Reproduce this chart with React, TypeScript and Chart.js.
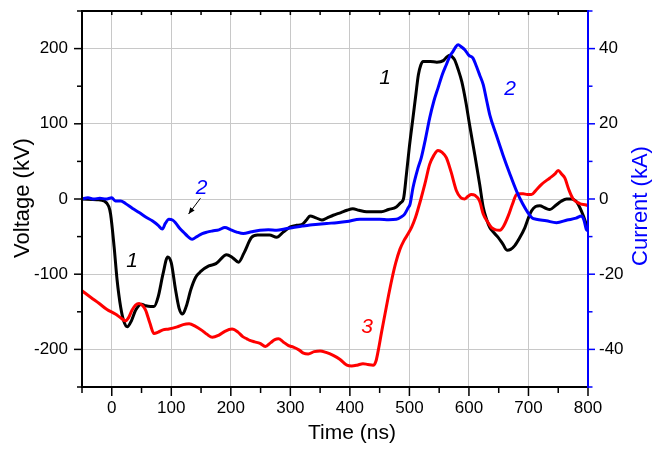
import React, { useEffect, useRef } from "react";
import { Chart, registerables } from "chart.js";

Chart.register(...registerables);

// Trace 1 (black): voltage, kV
const trace1Time = [-50, -25, -12, -5, -2, 4, 9, 15, 20, 26, 33, 40, 50, 57, 65, 71, 78, 86, 94, 100, 107, 113, 119, 125, 133, 141, 150, 163, 175, 193, 203, 213, 222, 235, 245, 255, 265, 277, 288, 300, 310, 319, 327, 333, 343, 353, 362, 372, 385, 395, 405, 415, 428, 440, 453, 465, 478, 485, 490, 495, 500, 506, 511, 515, 519, 523, 535, 546, 557, 563, 568, 572, 576, 582, 588, 595, 601, 610, 618, 624, 630, 635, 642, 649, 657, 664, 670, 677, 685, 694, 700, 705, 712, 719, 728, 736, 745, 755, 764, 772, 780, 786, 792, 797, 800];
const trace1Volt = [0, -1, -3, -10, -20, -64, -108, -144, -162, -170, -162, -148, -140, -142, -143, -143, -130, -100, -77, -85, -120, -145, -153, -143, -120, -104, -96, -89, -86, -74, -78, -84, -72, -51, -48, -48, -48, -51, -44, -37, -35, -34, -28, -22.5, -25, -28, -25, -21.6, -18, -15, -13, -15, -17, -17, -17, -14, -10.6, -5, 0, 33, 70, 108, 140, 165, 178, 183, 183, 182, 184, 189, 191, 189, 185, 172, 156, 128, 99, 58, 19.5, -11, -28, -38, -45, -51, -60, -68, -67, -62, -52, -38, -25, -16, -10, -9, -12, -14, -9, -3, 0, 0, -3, -11, -22, -33, -38];

// Trace 3 (red): voltage, kV
const trace3Time = [-50, -35, -21, -8, 6, 15, 23, 28, 34, 40, 46, 52, 57, 64, 71, 78, 86, 96, 110, 120, 130, 140, 152, 160, 169, 180, 190, 202, 212, 220, 227, 232, 240, 249, 258, 267, 274, 280, 288, 297, 305, 315, 322, 330, 340, 350, 360, 372, 383, 395, 403, 412, 422, 430, 439, 444, 448, 453, 459, 465, 471, 477, 484, 491, 498, 504, 510, 515, 520, 526, 534, 541, 548, 555, 562, 570, 579, 586, 593, 599, 604, 610, 618, 624, 631, 638, 645, 652, 659, 666, 673, 680, 686, 691, 698, 705, 713, 722, 736, 744, 750, 756, 761, 768, 775, 786, 797, 800];
const trace3Volt = [-122, -131, -139, -147, -153, -158, -162, -158, -148, -141, -139, -142, -148, -165, -179, -177, -174, -173, -170, -167, -166, -169, -175, -180, -184, -181, -176, -173, -177, -183, -186, -188, -190, -192, -196, -191, -187, -186, -190, -195, -197, -201, -205, -206, -203, -202, -204, -208, -213, -221, -222, -221, -219, -220, -221, -215, -200, -178, -153, -128, -105, -85, -67, -55, -46, -37, -25, -12, 2, 20, 46, 58, 64.5, 62, 55, 36, 11, 2, 0, 4, 6, 5, -3, -20, -30, -38, -41, -41.5, -35, -22.5, -7, 6, 7, 7, 6, 6, 12, 19.5, 28, 33, 38, 33, 28, 12, 0, -6, -8, -9];

// Trace 2 (blue): current, kA
const trace2Time = [-50, -40, -30, -20, -10, 0, 6, 15, 23, 35, 46, 57, 68, 78, 85, 90, 96, 102, 107, 114, 121, 128, 135, 143, 152, 160, 169, 180, 190, 200, 210, 221, 235, 249, 263, 277, 290, 305, 320, 333, 347, 361, 378, 395, 417, 435, 450, 465, 478, 486, 492, 498, 501, 506, 514, 520, 527, 534, 541, 548, 555, 562, 568, 573, 578, 582, 587, 593, 600, 607, 612, 618, 624, 630, 635, 646, 657, 668, 680, 690, 699, 706, 713, 730, 747, 765, 780, 789, 793, 797, 800];
const trace2Curr = [0, 0.3, 0, 0.2, 0, 0.3, -0.5, -0.5, -1.2, -2.5, -3.6, -4.8, -5.8, -7, -8, -6.5, -5.4, -5.6, -6.3, -7.8, -8.9, -10, -10.7, -10, -9.2, -8.8, -8.5, -8.2, -7.6, -8.2, -8.8, -9.2, -8.7, -8.3, -8.2, -8.3, -8, -7.6, -7.2, -6.9, -6.7, -6.5, -6.3, -6, -5.4, -5.4, -5.4, -5.5, -5.4, -4.8, -4, -2.3, -1.4, 3, 8, 11, 16, 21.5, 26, 29.5, 33, 35.7, 38, 39.2, 40.5, 41, 40.5, 39.7, 38.2, 37.4, 35.5, 33, 30.4, 26, 22.4, 17, 11.8, 7, 2.1, -1.2, -3.6, -5, -5.4, -5.8, -6.3, -5.6, -5.1, -4.5, -5.5, -8, -8.5];

// Axis ticks
const timeTicks = [0, 100, 200, 300, 400, 500, 600, 700, 800];
const voltTicks = [-200, -100, 0, 100, 200];
const currTicks = [-40, -20, 0, 20, 40];

// Curve labels (text, time, voltage)
const labelText = ["1", "1", "2", "2", "3"];
const labelTime = [459, 34, 151, 669, 429];
const labelVolt = [161, -82, 15, 146, -171];
const labelColor = ["#000000", "#000000", "#0000ff", "#0000ff", "#ff0000"];

const FONT = "'Liberation Sans', Arial, sans-serif";

const framePlugin = {
  id: "frame",
  afterDatasetsDraw(chart: any) {
    const { ctx, chartArea, scales } = chart;
    const { left, right, top, bottom } = chartArea;
    const x = scales.x, y = scales.y, y2 = scales.y2;
    ctx.save();
    ctx.lineCap = "butt";
    ctx.lineWidth = 1.5;
    ctx.strokeStyle = "#000";
    for (let v = -50; v <= 800; v += 50) {
      const px = x.getPixelForValue(v);
      const major = v % 100 === 0;
      ctx.beginPath();
      ctx.moveTo(px, bottom);
      ctx.lineTo(px, bottom + (major ? 9 : 6));
      ctx.moveTo(px, top);
      ctx.lineTo(px, top + 4);
      ctx.stroke();
    }
    for (let v = -250; v <= 250; v += 50) {
      const py = y.getPixelForValue(v);
      const major = v % 100 === 0;
      ctx.beginPath();
      ctx.moveTo(left, py);
      ctx.lineTo(left - (major ? 8 : 5), py);
      ctx.stroke();
    }
    ctx.strokeStyle = "#0000ff";
    for (let v = -50; v <= 50; v += 10) {
      const py = y2.getPixelForValue(v);
      const major = v % 20 === 0;
      ctx.beginPath();
      ctx.moveTo(right, py);
      ctx.lineTo(right + (major ? 7 : 4.5), py);
      ctx.stroke();
    }
    ctx.lineWidth = 2;
    ctx.strokeStyle = "#000";
    ctx.beginPath();
    ctx.moveTo(right, top);
    ctx.lineTo(left, top);
    ctx.lineTo(left, bottom);
    ctx.lineTo(right, bottom);
    ctx.stroke();
    ctx.strokeStyle = "#0000ff";
    ctx.beginPath();
    ctx.moveTo(right, top - 1);
    ctx.lineTo(right, bottom + 1);
    ctx.stroke();
    ctx.restore();
  },
  afterDraw(chart: any) {
    const { ctx, scales } = chart;
    const x = scales.x, y = scales.y;
    ctx.save();
    ctx.fillStyle = "#000";
    ctx.font = `21px ${FONT}`;
    ctx.textAlign = "center";
    ctx.textBaseline = "alphabetic";
    ctx.fillText("Time (ns)", 352, 439);
    ctx.save();
    ctx.font = `22px ${FONT}`;
    ctx.translate(29, 198);
    ctx.rotate(-Math.PI / 2);
    ctx.fillText("Voltage (kV)", 0, 0);
    ctx.restore();
    ctx.save();
    ctx.font = `22px ${FONT}`;
    ctx.fillStyle = "#0000ff";
    ctx.translate(647, 206);
    ctx.rotate(-Math.PI / 2);
    ctx.fillText("Current (kA)", 0, 0);
    ctx.restore();
    ctx.font = `italic 21px ${FONT}`;
    ctx.textBaseline = "middle";
    for (let i = 0; i < labelText.length; i++) {
      ctx.fillStyle = labelColor[i];
      ctx.fillText(labelText[i], x.getPixelForValue(labelTime[i]), y.getPixelForValue(labelVolt[i]));
    }
    const x0 = x.getPixelForValue(149), y0 = y.getPixelForValue(1);
    const x1 = x.getPixelForValue(129), y1 = y.getPixelForValue(-20);
    ctx.strokeStyle = "#000";
    ctx.fillStyle = "#000";
    ctx.lineWidth = 1;
    ctx.beginPath();
    ctx.moveTo(x0, y0);
    ctx.lineTo(x1, y1);
    ctx.stroke();
    const ang = Math.atan2(y1 - y0, x1 - x0);
    ctx.beginPath();
    ctx.moveTo(x1, y1);
    ctx.lineTo(x1 - 7 * Math.cos(ang - 0.4), y1 - 7 * Math.sin(ang - 0.4));
    ctx.lineTo(x1 - 7 * Math.cos(ang + 0.4), y1 - 7 * Math.sin(ang + 0.4));
    ctx.closePath();
    ctx.fill();
    ctx.restore();
  },
};

function pts(t: number[], v: number[]) {
  return t.map((tt, i) => ({ x: tt, y: v[i] }));
}

export default function App() {
  const ref = useRef<HTMLCanvasElement | null>(null);
  useEffect(() => {
    if (!ref.current) return;
    const tickFont = { family: FONT, size: 17 };
    const chart = new Chart(ref.current, {
      type: "line",
      data: {
        datasets: [
          {
            label: "2",
            data: pts(trace2Time, trace2Curr),
            yAxisID: "y2",
            borderColor: "#0000ff",
            borderWidth: 3,
            pointRadius: 0,
            cubicInterpolationMode: "monotone",
          },
          {
            label: "3",
            data: pts(trace3Time, trace3Volt),
            yAxisID: "y",
            borderColor: "#ff0000",
            borderWidth: 3,
            pointRadius: 0,
            cubicInterpolationMode: "monotone",
          },
          {
            label: "1",
            data: pts(trace1Time, trace1Volt),
            yAxisID: "y",
            borderColor: "#000000",
            borderWidth: 3,
            pointRadius: 0,
            cubicInterpolationMode: "monotone",
          },
        ],
      },
      options: {
        animation: false,
        responsive: false,
        devicePixelRatio: 1,
        layout: { padding: { top: 11, left: 0, right: 0, bottom: 0 } },
        plugins: { legend: { display: false }, tooltip: { enabled: false } },
        scales: {
          x: {
            type: "linear",
            min: -50,
            max: 800,
            afterBuildTicks: (s: any) => { s.ticks = timeTicks.map((v) => ({ value: v })); },
            afterFit: (s: any) => { s.height = 62; s.paddingLeft = 0; s.paddingRight = 0; },
            grid: { color: "#c8c8c8", lineWidth: 1, drawTicks: false },
            border: { display: false },
            ticks: { font: tickFont, color: "#000", padding: 11, maxRotation: 0, autoSkip: false },
          },
          y: {
            type: "linear",
            position: "left",
            min: -250,
            max: 250,
            afterBuildTicks: (s: any) => { s.ticks = voltTicks.map((v) => ({ value: v })); },
            afterFit: (s: any) => { s.width = 82; s.paddingTop = 0; s.paddingBottom = 0; },
            grid: { color: "#c8c8c8", lineWidth: 1, drawTicks: false },
            border: { display: false },
            ticks: { font: tickFont, color: "#000", padding: 14, autoSkip: false },
          },
          y2: {
            type: "linear",
            position: "right",
            min: -50,
            max: 50,
            afterBuildTicks: (s: any) => { s.ticks = currTicks.map((v) => ({ value: v })); },
            afterFit: (s: any) => { s.width = 64; s.paddingTop = 0; s.paddingBottom = 0; },
            grid: { drawOnChartArea: false, drawTicks: false },
            border: { display: false },
            ticks: { font: tickFont, color: "#000", padding: 11, autoSkip: false },
          },
        },
      },
      plugins: [framePlugin],
    } as any);
    return () => chart.destroy();
  }, []);
  return (
    <div style={{ position: "fixed", left: 0, top: 0, width: 652, height: 449, background: "#fff" }}>
      <canvas ref={ref} width={652} height={449} style={{ width: 652, height: 449, display: "block" }} />
    </div>
  );
}
